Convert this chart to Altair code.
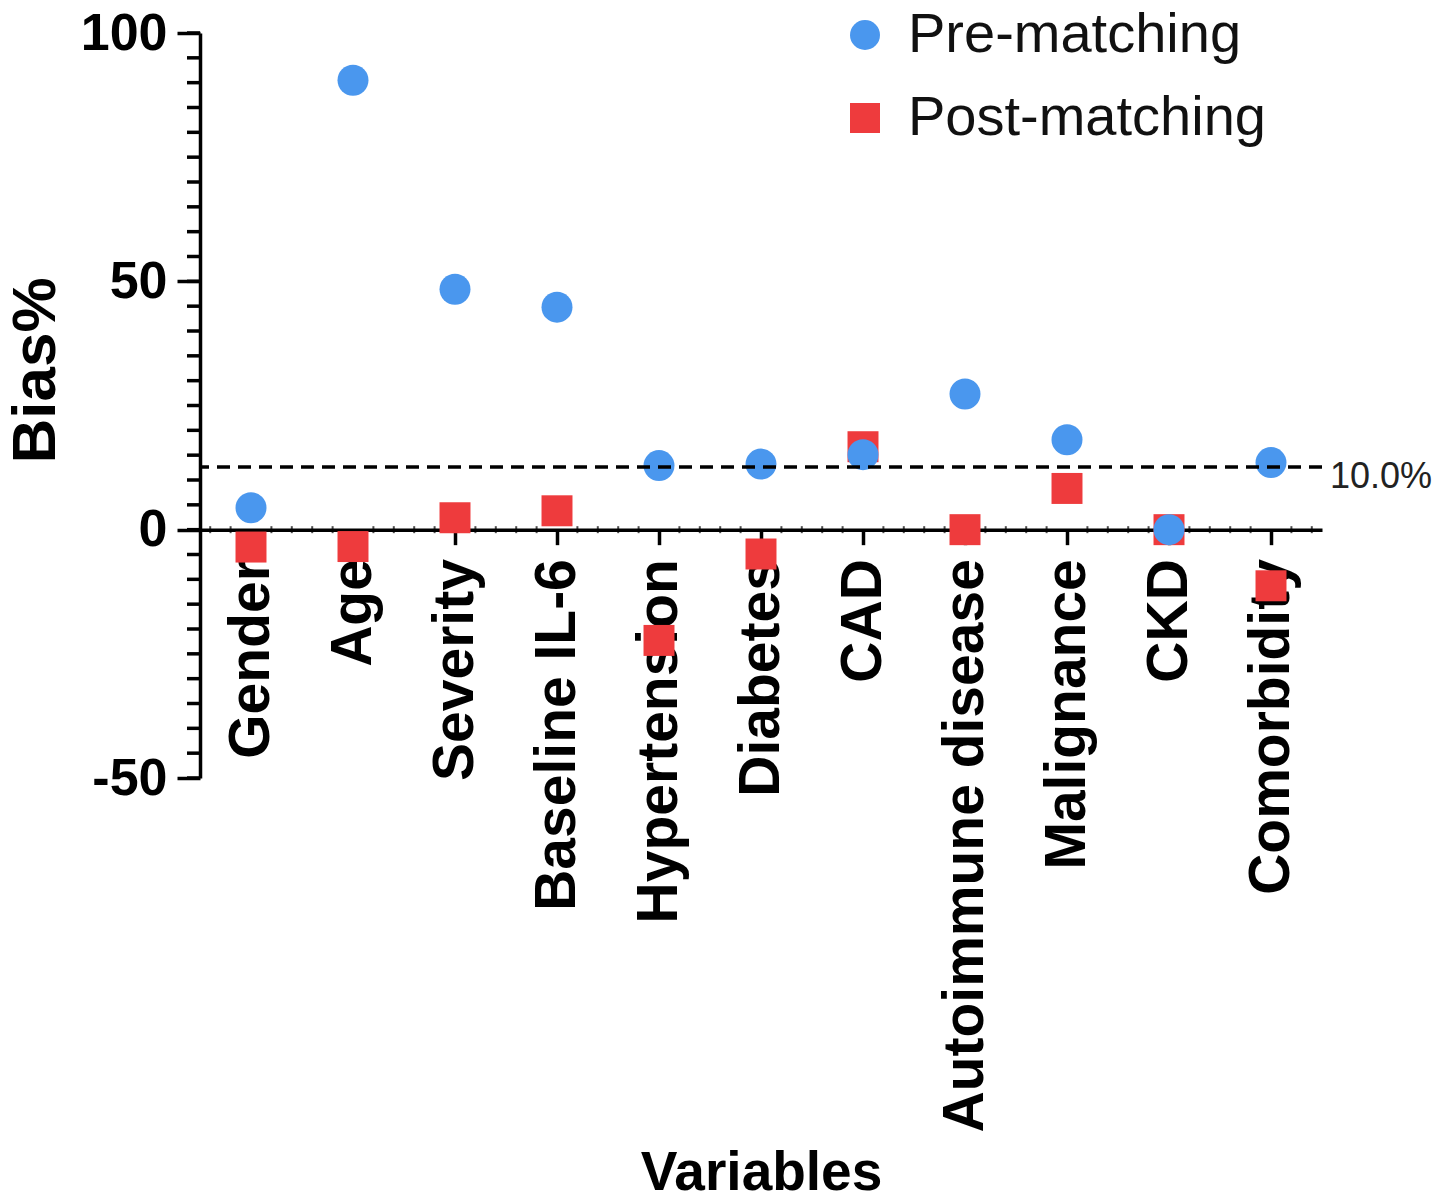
import altair as alt
import pandas as pd

categories = ["Gender", "Age", "Severity", "Baseline IL-6", "Hypertension", "Diabetes",
              "CAD", "Autoimmune disease", "Malignance", "CKD", "Comorbidity"]
pre_matching = [4.4, 90.5, 48.4, 44.8, 12.9, 13.2, 15.1, 27.3, 18.1, 0.0, 13.5]
post_matching = [-3.5, -3.4, 2.4, 3.8, -22.3, -4.9, 16.7, 0.0, 8.3, 0.0, -11.3]
series_names = ["Pre-matching", "Post-matching"]
threshold_value = 12.6
threshold_label = "10.0%"
y_tick_values = [-50, 0, 50, 100]

FONT = "Liberation Sans"
BLUE = "#4A97EE"
RED = "#EE3B3D"
W, H = 1122, 745
Y_MIN, Y_MAX = -50, 100
zero_px = H * Y_MAX / (Y_MAX - Y_MIN)
LW = 3.5

rows = []
for c, v in zip(categories, post_matching):
    rows.append({"Variable": c, "Bias": v, "Series": "Post-matching"})
for c, v in zip(categories, pre_matching):
    rows.append({"Variable": c, "Bias": v, "Series": "Pre-matching"})
df = pd.DataFrame(rows)

yscale = alt.Scale(domain=[Y_MIN, Y_MAX], nice=False, zero=False)

points = alt.Chart(df).mark_point(filled=True, opacity=1, size=960, strokeWidth=0).encode(
    x=alt.X("Variable:N", sort=categories, scale=alt.Scale(type="point", padding=0.5),
            axis=alt.Axis(title="Variables", labelAngle=270, labelFontSize=57, labelFontWeight="bold",
                          labelFont=FONT, labelColor="black", labelPadding=14, tickSize=15, tickWidth=LW,
                          tickColor="black", domainWidth=LW, domainColor="black", offset=-(H - zero_px),
                          titleFontSize=55, titleFontWeight="bold", titleFont=FONT, titleColor="black",
                          titleY=643, titleBaseline="middle", grid=False, labelOverlap=False,
                          labelLimit=0)),
    y=alt.Y("Bias:Q", scale=yscale,
            axis=alt.Axis(title="Bias%", values=y_tick_values, labelFontSize=52, labelFontWeight="bold",
                          labelFont=FONT, labelColor="black", labelPadding=10, tickSize=23, tickWidth=LW,
                          tickColor="black", domainWidth=LW, domainColor="black",
                          labelExpr="replace(datum.label, '\u2212', '-')",
                          titleFontSize=62, titleFontWeight="bold", titleFont=FONT, titleColor="black",
                          titleAngle=270, titleX=-165, titleY=337, titleAlign="center",
                          titleBaseline="middle", grid=False)),
    color=alt.Color("Series:N", scale=alt.Scale(domain=series_names, range=[BLUE, RED]),
                    legend=alt.Legend(title=None, orient="none", legendX=637, legendY=-26,
                                      labelFontSize=56, labelFont=FONT, labelColor="#111",
                                      symbolSize=900, rowPadding=27, labelOffset=15, padding=0,
                                      symbolStrokeWidth=0, symbolOpacity=1, labelLimit=0)),
    shape=alt.Shape("Series:N", scale=alt.Scale(domain=series_names, range=["circle", "square"]),
                    legend=None),
    order=alt.Order("order:Q"),
).transform_calculate(order="datum.Series == 'Pre-matching' ? 1 : 0")

minor_y = pd.DataFrame({"v": list(range(Y_MIN, Y_MAX + 1, 5))})
minor_ticks_y = alt.Chart(minor_y).mark_rule(color="black", strokeWidth=LW).encode(
    y=alt.Y("v:Q", scale=yscale), x=alt.value(-13), x2=alt.value(0))

n_units = len(categories) * 5
minor_x = pd.DataFrame({"u": [j + 0.5 for j in range(n_units) if (j - 2) % 5 != 0], "z": 0})
minor_ticks_x = alt.Chart(minor_x).mark_tick(color="black", orient="vertical", size=7, thickness=2).encode(
    x=alt.X("u:Q", scale=alt.Scale(domain=[0, n_units], nice=False, zero=False), axis=None),
    y=alt.Y("z:Q", scale=yscale))

thr = pd.DataFrame({"t": [threshold_value], "label": [threshold_label]})
dashed = alt.Chart(thr).mark_rule(color="black", strokeWidth=LW, strokeDash=[13, 8]).encode(
    y=alt.Y("t:Q", scale=yscale))
thr_text = alt.Chart(thr).mark_text(align="left", baseline="middle", fontSize=36, font=FONT,
                                    color="#222", dx=0, dy=10).encode(
    y=alt.Y("t:Q", scale=yscale), x=alt.value(W + 8), text="label:N")

chart = alt.layer(minor_ticks_y, minor_ticks_x, points, dashed, thr_text).resolve_scale(
    x="independent"
).properties(
    width=W, height=H,
    autosize=alt.AutoSizeParams(type="none"),
    padding={"left": 192, "top": 25, "right": 126, "bottom": 420},
).configure_view(stroke=None)

chart.save("out.html", embed_options={"renderer": "svg", "actions": False})
